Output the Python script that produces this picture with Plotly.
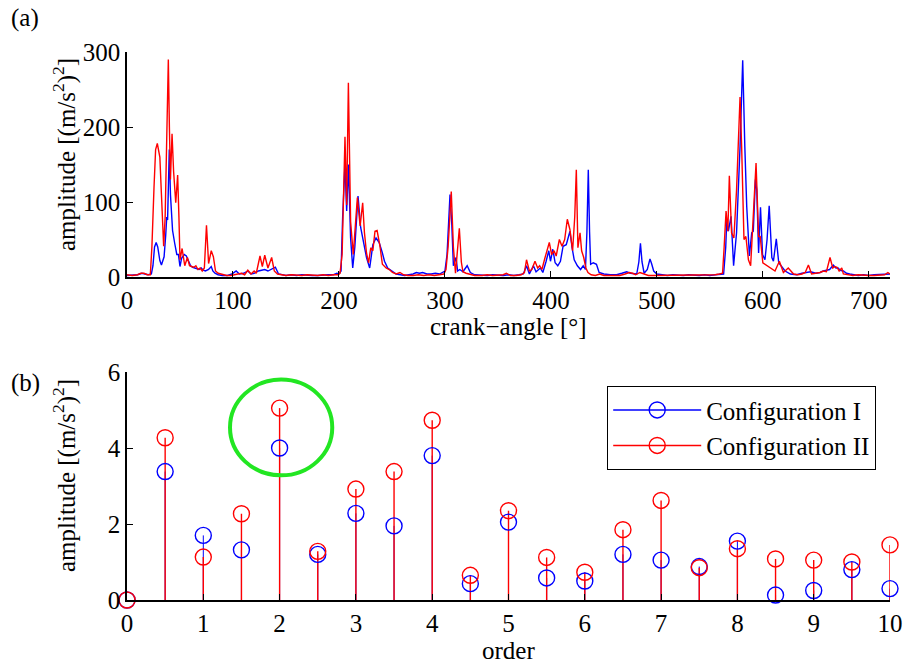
import plotly.graph_objects as go

# ---------------- (a) crank-angle signals ----------------
angle_I = [0, 5, 10, 14, 17, 20, 23, 24.5, 26, 27.5, 29, 31, 32.5, 35, 36.5, 37.5, 38.3, 39.9, 41, 42, 43, 45, 47, 48.5,
           50, 51.5, 54, 56, 58, 60, 62, 65, 68, 70, 72, 74, 77, 79.5, 81, 83, 86, 90, 95, 99, 103, 106, 110, 114, 117,
           120, 124, 127, 130, 133, 136, 140, 143, 146, 150, 155, 160, 165, 170, 175, 180, 185, 190, 195, 198, 200,
           202, 203.5, 205.7, 207.3, 209, 211, 213, 215, 218, 220.5, 222.4, 224, 226, 229, 232, 235, 238, 241, 243,
           246, 250, 254, 258, 262, 266, 270, 273, 276, 279, 283, 287, 291, 295, 298, 300, 302, 304.8, 306.5, 308,
           310.5, 312, 314, 317, 321, 324, 328, 335, 340, 345, 350, 355, 360, 365, 370, 374, 377, 379.7, 383.5, 386,
           390, 392.4, 395.5, 398, 399.6, 401.8, 404, 406.5, 409, 411.5, 414.5, 418, 420, 422, 425, 428, 430.5, 432.6,
           434, 435.3, 436.5, 437.5, 440, 443, 445.5, 450, 456, 462, 467, 471.5, 475, 481, 483, 484.5, 486, 488, 491,
           493.5, 495, 497, 500, 505, 510, 515, 520, 525, 530, 535, 540, 545, 550, 555, 560, 563, 565, 566, 567.5,
           570, 572.4, 575.2, 578.5, 581, 583, 584.8, 587.3, 589.5, 591, 593, 594.3, 596, 597.8, 599.7, 602, 604,
           606, 608.5, 610, 612.7, 615, 617, 621, 626, 632, 637, 640, 645, 650, 654, 657, 660, 663, 666.5, 669, 671,
           673, 676, 679, 682, 686, 690, 695, 700, 705, 710, 715, 718, 720]
amp_I = [2, 2, 3, 5, 4, 3, 4, 15, 40, 46, 40, 22, 16, 27, 55, 80, 76, 170, 110, 73, 62, 45, 30, 30,
         14, 25, 30, 28, 20, 15, 13, 12, 10, 12, 9, 8, 10, 14, 8, 5, 3, 2, 2, 4, 8, 4, 5, 8, 4,
         5, 8, 9, 10, 8, 10, 13, 4, 3, 2, 3, 2, 3, 2, 2, 2, 3, 3, 3, 5, 4,
         8, 80, 150, 88, 150, 52, 12, 40, 108, 66, 52, 37, 26, 12, 43, 52, 46, 32, 21,
         12, 8, 4, 3, 2, 3, 4, 6, 5, 6, 4, 4, 5, 4, 6, 8, 30, 110, 70, 15,
         26, 8, 10, 7, 15, 6, 3, 2, 2, 3, 2, 2, 3, 2, 3, 4, 15, 4, 15, 7,
         12, 6, 21, 35, 21, 37, 19, 15, 21, 41, 43, 61, 39, 23, 15, 10, 15, 10,
         60, 143, 60, 17, 19, 17, 6, 4, 3, 3, 5, 7, 5, 4, 20, 45, 20, 5, 10,
         24, 18, 8, 4, 3, 2, 3, 2, 2, 3, 2, 2, 3, 2, 3, 3, 4, 40, 77, 61,
         81, 15, 59, 174, 289, 174, 94, 28, 59, 61, 130, 116, 32, 93, 30, 23, 50,
         95, 26, 21, 51, 19, 15, 8, 4, 3, 5, 6, 7, 5, 6, 8, 9, 10, 16, 12, 12,
         9, 8, 5, 4, 3, 2, 3, 2, 3, 3, 4, 3, 4]

angle_II = [0, 5, 10, 13, 16, 19, 22, 23.5, 25.5, 27, 28.6, 31, 32.5, 34.6, 36, 37.5, 39, 40, 41, 42.5, 44, 46, 47.8,
            49, 50, 52, 54.5, 57, 59, 61, 63, 65, 67, 69, 71, 73, 75, 77, 79.5, 81.5, 83.5, 86, 90, 94, 98, 102, 105,
            108, 111, 114, 117, 120, 122, 125.5, 127.7, 130, 133, 136.5, 139, 142, 146, 150, 155, 160, 165, 170, 175,
            180, 185, 190, 195, 199, 201, 203, 205.7, 207.3, 208.9, 211, 213.5, 215.5, 217.4, 220, 222.4, 224, 226,
            228, 230, 232, 234, 236, 238.5, 241, 244.5, 247.5, 250.5, 254, 257.6, 261, 265, 270, 275, 280, 285, 290,
            295, 299, 301, 303, 306, 308, 310, 312, 313.6, 315.5, 317, 320, 324, 328, 335, 340, 345, 350, 355, 358,
            362, 367, 372, 375, 377, 379.7, 382, 385, 387.5, 389.4, 391.5, 394.5, 398.5, 400.7, 403, 405, 408, 410.5,
            413, 415.5, 418, 420.5, 422.5, 424, 425.5, 427.5, 429, 431, 433, 435, 438, 442, 446, 450, 455, 460, 465,
            470, 474, 477, 480, 484, 488, 492, 496, 500, 505, 510, 515, 520, 525, 530, 535, 540, 545, 550, 555, 559,
            562, 563.5, 565.3, 567, 568.4, 570.5, 572.7, 575.2, 578.5, 580, 582.2, 584, 586.4, 588.5, 591, 593.6, 596,
            597.5, 600, 602, 607, 611.5, 615.6, 619.4, 624, 629, 633, 637, 640, 643, 646, 650, 654, 657, 660, 663.4,
            666, 668, 670, 672, 674.5, 676, 680, 685, 690, 695, 700, 705, 710, 715, 718, 720]
amp_II = [3, 2, 3, 5, 5, 3, 3, 40, 120, 170, 178, 160, 110, 41, 80, 200, 290, 200, 130, 191, 140, 99, 136,
          80, 23, 38, 15, 26, 15, 14, 13, 15, 10, 12, 8, 12, 69, 18, 35, 27, 8, 5, 3, 2, 2, 3, 4,
          5, 3, 9, 4, 8, 5, 28, 14, 29, 12, 26, 8, 4, 3, 2, 3, 2, 2, 3, 2,
          2, 3, 2, 3, 3, 5, 30, 187, 96, 259, 74, 30, 70, 106, 68, 99, 60, 32,
          19, 39, 35, 61, 62, 43, 17, 12, 10, 6, 4, 6, 3, 2, 2, 3, 2, 3, 2,
          3, 4, 10, 40, 114, 40, 5, 40, 65, 20, 7, 5, 4, 2, 2, 3, 2, 2, 3, 5,
          2, 2, 3, 6, 23, 8, 10, 21, 12, 15, 10, 26, 46, 30, 35, 28, 50, 41,
          50, 77, 63, 35, 80, 143, 39, 59, 35, 26, 12, 6, 3, 2, 4, 2, 2, 3, 2,
          4, 6, 5, 3, 6, 4, 2, 2, 2, 3, 2, 2, 2, 3, 2, 2, 2, 2, 3, 3, 4,
          5, 40, 88, 61, 135, 59, 52, 116, 240, 174, 50, 54, 23, 15, 85, 152, 54,
          54, 19, 17, 12, 8, 21, 6, 12, 4, 3, 4, 6, 16, 4, 5, 6, 8, 7, 26,
          12, 14, 13, 8, 12, 4, 3, 2, 3, 2, 2, 2, 3, 3, 6, 4]

# ---------------- (b) order spectrum ----------------
orders = [0, 0.5, 1, 1.5, 2, 2.5, 3, 3.5, 4, 4.5, 5, 5.5, 6, 6.5, 7, 7.5, 8, 8.5, 9, 9.5, 10]
order_amp_I = [0, 3.38, 1.70, 1.32, 4.00, 1.20, 2.28, 1.95, 3.80, 0.43, 2.05, 0.58, 0.50, 1.20, 1.05, 0.88,
               1.55, 0.13, 0.25, 0.80, 0.30]
order_amp_II = [0, 4.27, 1.13, 2.27, 5.05, 1.28, 2.92, 3.38, 4.73, 0.65, 2.35, 1.12, 0.73, 1.85, 2.62, 0.85,
                1.35, 1.08, 1.05, 1.00, 1.45]
series_names = ["Configuration I", "Configuration II"]
BLUE = "#0000ff"
RED = "#ff0000"
FONT = "Liberation Serif, Times New Roman, serif"
FS = 25

W, H = 906, 666
def fx(px):
    return px / W
def fy(py):
    return 1 - py / H

fig = go.Figure()

# top panel
fig.add_trace(go.Scatter(x=angle_I, y=amp_I, mode="lines", line=dict(color=BLUE, width=1.4),
                         showlegend=False, xaxis="x", yaxis="y"))
fig.add_trace(go.Scatter(x=angle_II, y=amp_II, mode="lines", line=dict(color=RED, width=1.4),
                         showlegend=False, xaxis="x", yaxis="y"))

# bottom panel stems
def stems(xs, ys):
    sx, sy = [], []
    for a, b in zip(xs, ys):
        sx += [a, a, None]
        sy += [0, b, None]
    return sx, sy

for vals, col, wd in [(order_amp_I, BLUE, 1.0), (order_amp_II, RED, 1.4)]:
    sx, sy = stems(orders, vals)
    fig.add_trace(go.Scatter(x=sx, y=sy, mode="lines", line=dict(color=col, width=wd),
                             showlegend=False, hoverinfo="skip", xaxis="x2", yaxis="y2"))

for vals, col, name in [(order_amp_I, BLUE, series_names[0]), (order_amp_II, RED, series_names[1])]:
    fig.add_trace(go.Scatter(x=orders, y=vals, mode="markers", name=name,
                             marker=dict(symbol="circle-open", size=16, color=col, line=dict(width=1.4, color=col)),
                             cliponaxis=False, showlegend=False, xaxis="x2", yaxis="y2"))
    # legend proxy (line + marker)
    fig.add_trace(go.Scatter(x=[None], y=[None], mode="lines+markers", name=name,
                             line=dict(color=col, width=1.4),
                             marker=dict(symbol="circle-open", size=16, color=col, line=dict(width=1.4, color=col)),
                             xaxis="x2", yaxis="y2"))

axis_common = dict(showline=True, linecolor="black", linewidth=1.5, ticks="inside", ticklen=6,
                   tickcolor="black", tickwidth=1.2, showgrid=False, zeroline=False, automargin=False,
                   tickfont=dict(family=FONT, size=FS, color="black"))

fig.update_layout(
    template="none",
    width=W, height=H,
    margin=dict(l=0, r=0, t=0, b=0, autoexpand=False),
    paper_bgcolor="white", plot_bgcolor="white",
    font=dict(family=FONT, size=FS, color="black"),
    xaxis=dict(domain=[fx(127), fx(890)], range=[0, 720], tickvals=[0, 100, 200, 300, 400, 500, 600, 700],
               anchor="y", **axis_common),
    yaxis=dict(domain=[fy(277), fy(52)], range=[0, 300], tickvals=[0, 100, 200, 300], anchor="x",
               **axis_common),
    xaxis2=dict(domain=[fx(127), fx(890)], range=[0, 10], tickvals=list(range(0, 11)), anchor="y2",
                **axis_common),
    yaxis2=dict(domain=[fy(600), fy(372)], range=[0, 6], tickvals=[0, 2, 4, 6], anchor="x2", **axis_common),
    legend=dict(x=fx(607), y=fy(386), xanchor="left", yanchor="top", bgcolor="white",
                bordercolor="black", borderwidth=1.2, font=dict(family=FONT, size=FS, color="black"),
                itemwidth=88, tracegroupgap=0),
    showlegend=True,
)

# highlight ellipse around order 2
fig.add_shape(type="circle", xref="x2", yref="y2", x0=1.35, x1=2.69, y0=3.28, y1=5.80,
              line=dict(color="#22e622", width=4))

ann = dict(showarrow=False, xanchor="center", yanchor="middle", font=dict(family=FONT, size=FS, color="black"))
fig.add_annotation(text="(a)", xref="paper", yref="paper", x=fx(25), y=fy(18), **ann)
fig.add_annotation(text="(b)", xref="paper", yref="paper", x=fx(25), y=fy(383), **ann)
fig.add_annotation(text="crank\u2212angle [°]", xref="paper", yref="paper", x=fx(508), y=fy(326), **ann)
fig.add_annotation(text="order", xref="paper", yref="paper", x=fx(508), y=fy(650), **ann)
ylab = "amplitude [(m/s<sup>2</sup>)<sup>2</sup>]"
fig.add_annotation(text=ylab, xref="paper", yref="paper", x=fx(64), y=fy(155), textangle=-90, **ann)
fig.add_annotation(text=ylab, xref="paper", yref="paper", x=fx(64), y=fy(476), textangle=-90, **ann)

fig.write_html("out.html")
